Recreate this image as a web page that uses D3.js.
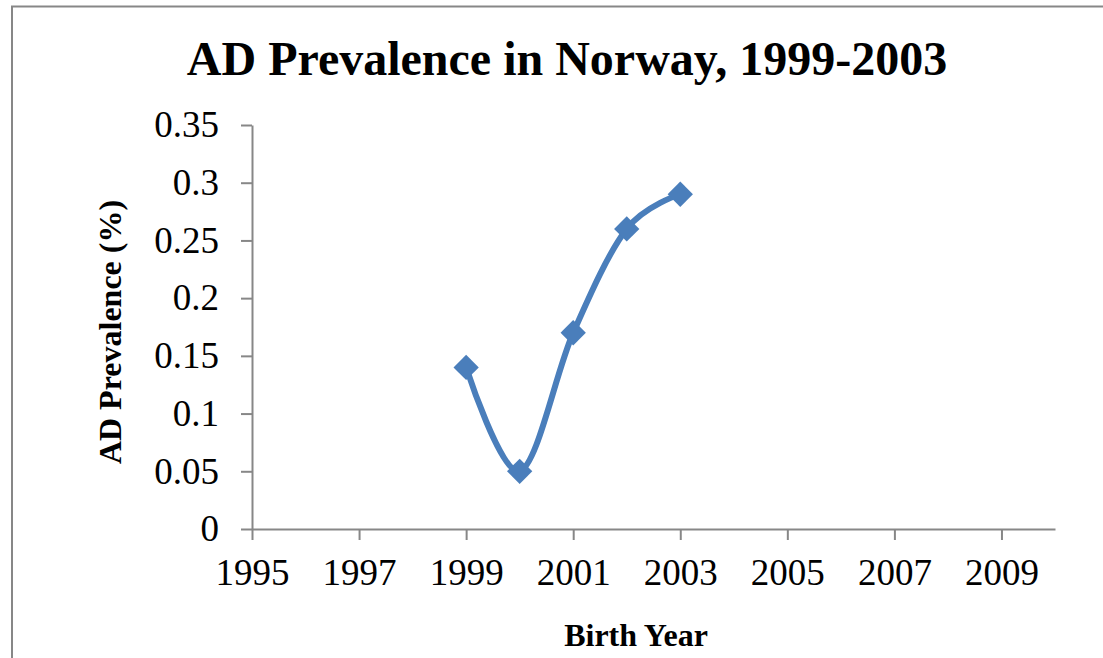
<!DOCTYPE html>
<html><head><meta charset="utf-8">
<script src="https://cdn.jsdelivr.net/npm/d3@7"></script>
<style>body{margin:0;background:#fff}svg{display:block}text{font-family:"Liberation Serif","Times New Roman",serif;fill:#000}</style>
</head><body><svg id="c" width="1103" height="658"></svg>
<script>
const years = [1999, 2000, 2001, 2002, 2003];
const prevalence = [0.14, 0.05, 0.17, 0.26, 0.29];
const xTicks = [1995, 1997, 1999, 2001, 2003, 2005, 2007, 2009];
const yTicks = [0, 0.05, 0.1, 0.15, 0.2, 0.25, 0.3, 0.35];
const titleText = "AD Prevalence in Norway, 1999-2003";
const xTitle = "Birth Year";
const yTitle = "AD Prevalence (%)";

const svg = d3.select("#c");
svg.append("rect").attr("x",12).attr("y",6.5).attr("width",1200).attr("height",800)
  .attr("fill","#fff").attr("stroke","#878787").attr("stroke-width",2);

const x = d3.scaleLinear().domain([1995, 2010]).range([252, 1055]);
const y = d3.scaleLinear().domain([0, 0.35]).range([529, 125]);

const xAxis = svg.append("g").attr("transform","translate(0,529)")
  .call(d3.axisBottom(x).tickValues(xTicks).tickFormat(d3.format("d")).tickSize(11).tickPadding(19).tickSizeOuter(0));
const yAxis = svg.append("g").attr("transform","translate(252,0)")
  .call(d3.axisLeft(y).tickValues(yTicks).tickFormat(d => String(d)).tickSize(11).tickPadding(22).tickSizeOuter(0));
[xAxis, yAxis].forEach(g => {
  g.attr("font-size",37);
  g.select(".domain").attr("stroke","#878787").attr("stroke-width",2);
  g.selectAll(".tick line").attr("stroke","#878787").attr("stroke-width",2);
  g.selectAll(".tick text").attr("font-size",37).attr("fill","#000");
});

const pts = years.map((yr,i)=>[yr, prevalence[i]]);
const line = d3.line().x(d=>x(d[0])).y(d=>y(d[1])).curve(d3.curveCardinal.tension(0));
svg.append("path").datum(pts).attr("d",line).attr("fill","none")
  .attr("stroke","#4a7ebb").attr("stroke-width",6).attr("stroke-linecap","round");
svg.selectAll(".m").data(pts).enter().append("path")
  .attr("d", d3.symbol().type(d3.symbolSquare).size(320))
  .attr("transform", d=>`translate(${x(d[0])},${y(d[1])}) rotate(45)`)
  .attr("fill","#4a7ebb");

svg.append("text").attr("x",567).attr("y",75).attr("text-anchor","middle")
  .attr("font-size",48).attr("font-weight","bold").text(titleText);
svg.append("text").attr("x",636).attr("y",646).attr("text-anchor","middle")
  .attr("font-size",32).attr("font-weight","bold").text(xTitle);
svg.append("text").attr("transform","translate(121,332) rotate(-90)").attr("text-anchor","middle")
  .attr("font-size",32).attr("font-weight","bold").text(yTitle);
</script></body></html>
